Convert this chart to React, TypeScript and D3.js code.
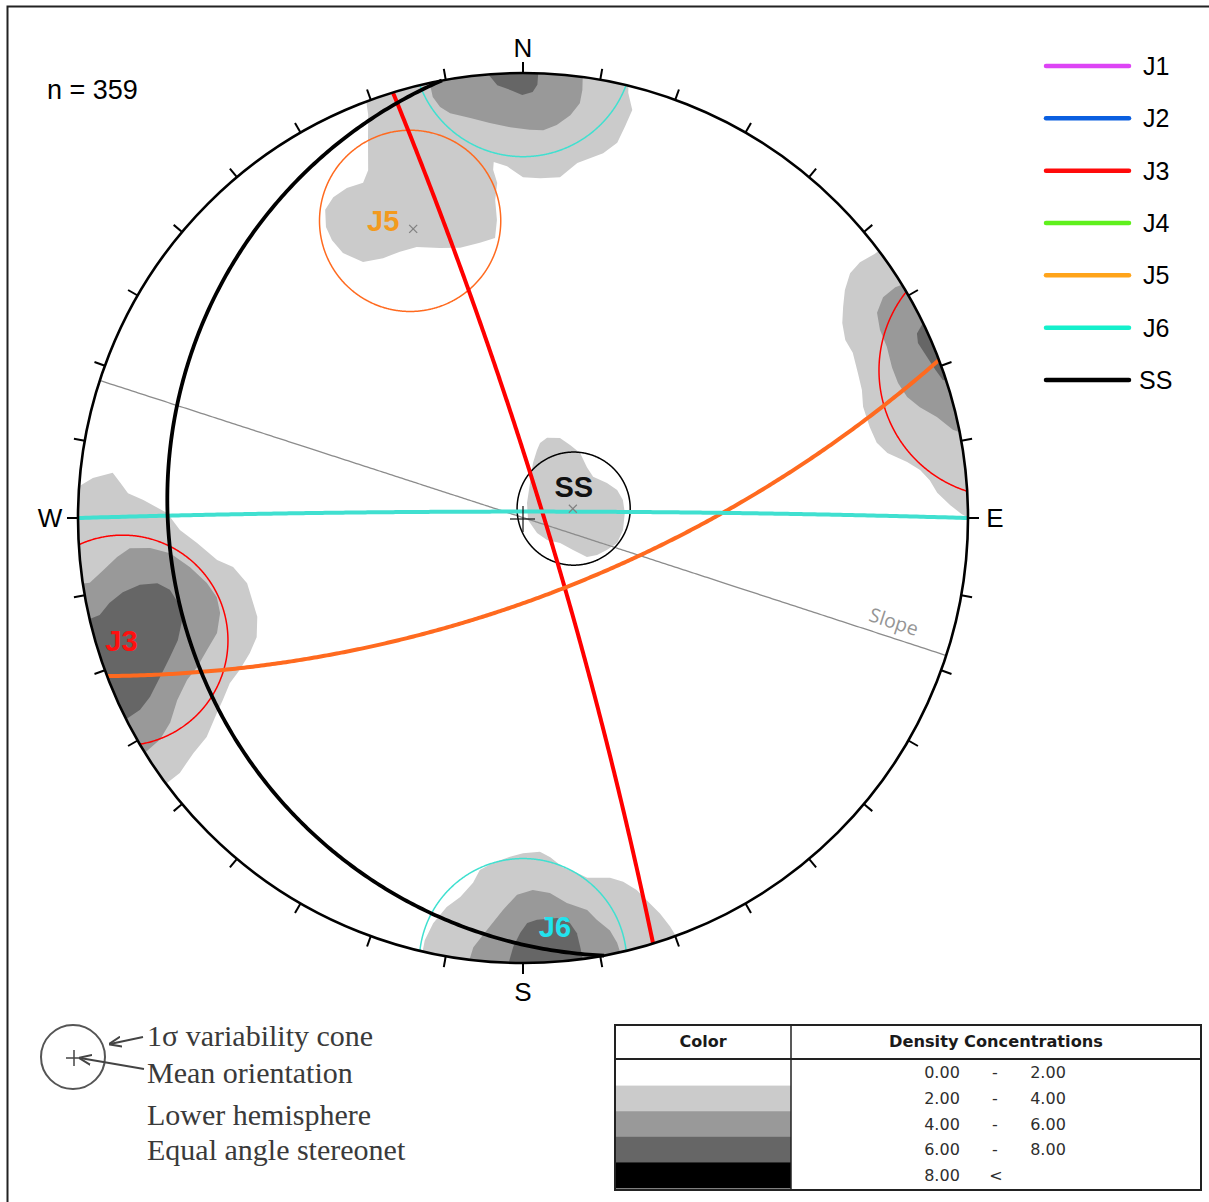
import React from 'react';
import * as d3 from 'd3';

// Canvas and net geometry
const WIDTH = 1209;
const HEIGHT = 1202;
const CX = 523;
const CY = 518;
const R = 445;

// Mean planes: dip direction / dip, 1-sigma cone half-angle (degrees)
const setNames = ['J3', 'J5', 'J6', 'SS'];
const setDipDirections = [73, 159.2, 0, 259.5];
const setDips = [84.8, 69.6, 88.35, 13];
const setCones = [14.5, 15.5, 13.5, 14.3];
const setPoleMarked = [false, true, false, true];
const setPlaneColors = ['#ff0000', '#ff6a1f', '#40e0d0', '#000000'];
const setLabelColors = ['#ff1010', '#f39a1e', '#22e3ee', '#111111'];

// Slope face trace (vertical section)
const slopeDipDirection = 18;
const slopeDip = 89.9;

// Pole density contours, rings of [trend, plunge] (negative plunge = just above horizontal)
const contourLight = [
  [[339.6, -1], [13.5, -1], [13.9, 0.9], [15.0, 3.0], [14.6, 5.5], [14.1, 8.0], [12.4, 10.0], [8.7, 12.2], [6.2, 14.8], [2.9, 15.2], [0, 15.1], [357.4, 13.3], [355.3, 12.5], [355.1, 13.7], [355.6, 15.9], [355.0, 18.7], [355.0, 22.2], [354.3, 25.4], [351.1, 25.9], [346.9, 26.1], [342.9, 25.2], [338.6, 23.6], [335.2, 23.2], [331.7, 22.9], [328.0, 21.7], [325.8, 18.5], [325.5, 15.7], [325.9, 13.4], [327.3, 11.1], [329.4, 10.1], [331.9, 9.9], [334.5, 10.3], [336.0, 8.9], [337.7, 4.9], [339.0, 1.7]],
  [[53.1, -1], [53.1, 0.7], [52.8, 2.9], [53.2, 4.9], [54.7, 6.9], [56.6, 8.5], [58.6, 9.9], [61.1, 10.8], [63.4, 10.7], [66.6, 11.3], [69.3, 11.7], [71.9, 12.4], [75.3, 12.3], [78.0, 11.8], [79.9, 10.5], [81.7, 7.8], [83.1, 6.1], [84.7, 4.9], [86.5, 4.0], [88.3, 2.3], [89.5, 0.8], [90.5, -1]],
  [[273.4, -1], [275.3, 1.7], [276.3, 4.3], [275.0, 5.5], [273.6, 6.7], [272.7, 9.0], [270.8, 12.7], [268.0, 14.7], [265.6, 17.4], [262.2, 20.5], [260.4, 23.1], [256.7, 25.0], [253.2, 25.1], [249.6, 25.0], [245.9, 23.5], [243.7, 21.2], [241.8, 18.3], [240.6, 15.8], [238.8, 13.5], [237.5, 11.6], [235.3, 8.3], [234.5, 5.4], [233.4, 2.3], [233.3, -1]],
  [[193.0, -1], [193.1, 1.5], [192.5, 4.0], [191.1, 6.6], [189.4, 8.4], [187.8, 10.8], [187.0, 12.9], [185.0, 14.2], [182.2, 15.4], [180.0, 16.0], [177.1, 16.2], [175.4, 15.2], [173.5, 13.4], [171.3, 12.2], [169.9, 11.2], [166.4, 10.5], [164.6, 9.4], [163.0, 7.7], [161.8, 5.3], [160.9, 3.5], [160.2, 1.4], [159.7, -1]],
  [[12.8, 70.4], [16.7, 68.7], [24.8, 67.6], [32.8, 67.9], [41.3, 68.0], [51.5, 69.2], [59.6, 69.3], [67.4, 66.9], [73.4, 65.1], [79.8, 64.3], [87.2, 64.2], [96.8, 64.5], [104.9, 65.3], [110.9, 67.2], [116.6, 68.9], [121.4, 70.9], [122.6, 74.8], [124.0, 78.5], [132.5, 81.6], [137.0, 84.7], [111.8, 88.6], [14.9, 86.0], [11.3, 80.8], [10.3, 75.7], [11.6, 72.3]],
];
const contourMedium = [
  [[347.9, -1], [347.9, 1.9], [348.6, 3.4], [349.8, 4.5], [352.5, 5.6], [355.2, 6.6], [358.1, 7.4], [1.0, 7.8], [3.0, 7.8], [4.9, 6.9], [6.7, 5.3], [7.8, 3.5], [7.9, 1.7], [7.6, -1]],
  [[58.6, -1], [58.2, 0.9], [58.5, 3.0], [59.9, 4.8], [62.2, 5.6], [64.8, 5.8], [67.8, 6.3], [70.2, 6.3], [72.5, 5.7], [74.4, 4.4], [76.3, 2.5], [78.4, 0.8], [79.5, -1]],
  [[261.6, -1], [261.5, 0.9], [262.9, 2.9], [264.5, 5.0], [265.6, 6.9], [265.4, 9.9], [264.3, 12.9], [261.6, 15.8], [258.4, 18.1], [255.5, 19.2], [252.6, 19.0], [249.4, 17.4], [247.3, 14.8], [245.4, 12.3], [244.3, 10.1], [242.2, 7.4], [239.9, 5.0], [238.6, 2.6], [238.0, -1]],
  [[187.1, -1], [186.6, 1.7], [185.0, 4.2], [182.9, 7.2], [180.9, 9.5], [178.5, 10.2], [175.9, 9.6], [173.5, 7.9], [170.7, 6.5], [169.6, 4.9], [168.1, 3.1], [167.5, 1.3], [167.3, -1]],
];
const contourDark = [
  [[354.8, -1], [356.6, 1.5], [358.3, 2.2], [359.9, 2.9], [1.3, 2.5], [1.9, 1.5], [2.0, -1]],
  [[63.3, -1], [64.9, 1.3], [66.1, 1.7], [68.3, 1.3], [70.2, 0.9], [71.8, 0.4], [72.5, -1]],
  [[256.7, -1], [257.1, 1.4], [258.4, 3.0], [259.5, 5.1], [260.1, 7.7], [259.9, 10.3], [258.5, 12.0], [256.2, 12.8], [253.3, 12.7], [250.5, 11.1], [248.5, 9.1], [246.3, 6.6], [244.4, 4.2], [243.4, 2.2], [243.0, -1]],
  [[182.1, -1], [181.3, 2.1], [180.4, 4.0], [179.4, 5.4], [178.0, 5.8], [175.1, 5.9], [173.4, 5.0], [172.6, 3.5], [172.4, 1.6], [172.2, -1]],
];
const contourFills = ['#cbcbcb', '#999999', '#666666'];

// Legend of sets
const legendNames = ['J1', 'J2', 'J3', 'J4', 'J5', 'J6', 'SS'];
const legendColors = ['#dd44f5', '#0a5fe0', '#ff0a0a', '#5ff01c', '#ffa41a', '#14f0cc', '#000000'];

// Density table
const densityLow = ['0.00', '2.00', '4.00', '6.00', '8.00'];
const densityHigh = ['2.00', '4.00', '6.00', '8.00', ''];
const densityFills = ['#ffffff', '#cbcbcb', '#999999', '#666666', '#000000'];

const poleCount = 359;
const tickAngles = d3.range(0, 360, 10);
const cardinals = [
  { text: 'N', az: 0, off: 25 },
  { text: 'E', az: 90, off: 27 },
  { text: 'S', az: 180, off: 29 },
  { text: 'W', az: 270, off: 28 },
];

const SANS = 'Liberation Sans, Arial, Helvetica, sans-serif';
const SERIF = 'Liberation Serif, Times New Roman, serif';
const TAHOMA = 'DejaVu Sans, Verdana, sans-serif';

// [trend, plunge] -> geographic [lon, lat] with the nadir at lat -90
const toGeo = (t: number, p: number): [number, number] => [t, -p];

function contourPolygon(ring: number[][]) {
  const coords = ring.map(([t, p]) => toGeo(t, p));
  coords.push(coords[0]);
  let poly: any = { type: 'Polygon', coordinates: [coords] };
  if (d3.geoArea(poly) > 2 * Math.PI) {
    poly = { type: 'Polygon', coordinates: [coords.slice().reverse()] };
  }
  return poly;
}

function greatCircle(dipDir: number, dip: number) {
  const ring = d3.geoCircle().center(toGeo(dipDir + 180, 90 - dip)).radius(90).precision(0.5)().coordinates[0];
  return { type: 'LineString', coordinates: ring } as any;
}

function cone(trend: number, plunge: number, angle: number) {
  const a = d3.geoCircle().center(toGeo(trend, plunge)).radius(angle).precision(0.5)().coordinates[0];
  const b = d3.geoCircle().center(toGeo(trend + 180, -plunge)).radius(angle).precision(0.5)().coordinates[0];
  return { type: 'MultiLineString', coordinates: [a, b] } as any;
}

const labelOffsets: Record<string, [number, number]> = {
  J3: [-13, 4],
  J5: [-30, -8],
  J6: [32, -23],
  SS: [1, -22],
};

export default function App() {
  const projection = d3
    .geoStereographic()
    .rotate([0, 90])
    .scale(R)
    .translate([CX, CY])
    .clipAngle(90)
    .precision(0.2);
  const path = d3.geoPath(projection as any);

  const [ncx, ncy] = projection(toGeo(0, 90)) as [number, number];

  const sets = setNames.map((name, i) => {
    const poleTrend = (setDipDirections[i] + 180) % 360;
    const polePlunge = 90 - setDips[i];
    const pole = projection(toGeo(poleTrend, polePlunge)) as [number, number];
    return {
      name,
      plane: path(greatCircle(setDipDirections[i], setDips[i])) || '',
      cone: path(cone(poleTrend, polePlunge, setCones[i])) || '',
      pole,
      marked: setPoleMarked[i],
      planeColor: setPlaneColors[i],
      labelColor: setLabelColors[i],
    };
  });

  const slopePath = path(greatCircle(slopeDipDirection, slopeDip)) || '';
  const slopeStrike = slopeDipDirection + 90;
  const slopeLabelPt = projection(toGeo(slopeStrike, 8.3)) as [number, number];
  const slopeAngle = slopeStrike - 90;

  const contourLayers = [contourLight, contourMedium, contourDark].map((rings, li) => ({
    fill: contourFills[li],
    paths: rings.map((ring) => path(contourPolygon(ring)) || ''),
  }));

  const legendY = d3.scalePoint<string>().domain(legendNames).range([66, 380]);

  const tableX0 = 615;
  const tableX1 = 1201;
  const tableSplit = 791;
  const headerTop = 1025;
  const headerBottom = 1059;
  const rowY = d3.scaleBand<number>().domain(d3.range(densityLow.length)).range([1060, 1188]);

  return (
    <svg
      width={WIDTH}
      height={HEIGHT}
      viewBox={`0 0 ${WIDTH} ${HEIGHT}`}
      style={{ position: 'absolute', left: 0, top: 0, background: '#ffffff' }}
    >
      <defs>
        <clipPath id="net-clip">
          <circle cx={CX} cy={CY} r={R} />
        </clipPath>
        <marker id="arrow" viewBox="0 0 10 10" refX="9" refY="5" markerWidth="7" markerHeight="7" orient="auto">
          <path d="M0,1 L10,5 L0,9" fill="none" stroke="#444" strokeWidth={1.6} />
        </marker>
      </defs>

      {/* frame */}
      <rect x={7.5} y={6.5} width={1210} height={1210} fill="none" stroke="#222" strokeWidth={2} />

      {/* density contours */}
      <g clipPath="url(#net-clip)">
        {contourLayers.map((layer, li) => (
          <g key={li} fill={layer.fill} stroke="none">
            {layer.paths.map((d, k) => (
              <path key={k} d={d} />
            ))}
          </g>
        ))}
      </g>

      {/* slope trace */}
      <path d={slopePath} fill="none" stroke="#8c8c8c" strokeWidth={1.3} />
      <text
        transform={`translate(${slopeLabelPt[0]},${slopeLabelPt[1]}) rotate(${slopeAngle})`}
        x={0}
        y={-9}
        textAnchor="middle"
        fontFamily="Open Sans, Noto Sans, sans-serif"
        fontSize={19.5}
        fill="#959595"
      >
        Slope
      </text>

      {/* variability cones */}
      <g fill="none" strokeWidth={1.5}>
        {sets.map((s) => (
          <path key={s.name} d={s.cone} stroke={s.planeColor} />
        ))}
      </g>

      {/* mean planes */}
      <g fill="none">
        {sets.map((s) => (
          <path key={s.name} d={s.plane} stroke={s.planeColor} strokeWidth={s.name === 'SS' ? 3.8 : 4} />
        ))}
      </g>

      {/* mean poles */}
      <g stroke="#808080" strokeWidth={1.2}>
        {sets
          .filter((s) => s.marked)
          .map((s) => (
            <g key={s.name} transform={`translate(${s.pole[0]},${s.pole[1]})`}>
              <line x1={-4} y1={-4} x2={4} y2={4} />
              <line x1={-4} y1={4} x2={4} y2={-4} />
            </g>
          ))}
      </g>

      {/* centre cross */}
      <g stroke="#111" strokeWidth={1.2}>
        <line x1={ncx - 13} y1={ncy + 1} x2={ncx + 12} y2={ncy + 1} />
        <line x1={ncx} y1={ncy - 12} x2={ncx} y2={ncy + 14} />
      </g>

      {/* set labels */}
      {sets.map((s) => (
        <text
          key={s.name}
          x={s.pole[0] + labelOffsets[s.name][0]}
          y={s.pole[1] + labelOffsets[s.name][1]}
          textAnchor="middle"
          dominantBaseline="central"
          fontFamily={SANS}
          fontWeight="bold"
          fontSize={29}
          fill={s.labelColor}
        >
          {s.name}
        </text>
      ))}

      {/* primitive circle and ticks */}
      <circle cx={CX} cy={CY} r={R} fill="none" stroke="#000" strokeWidth={2.6} />
      <g stroke="#000" strokeWidth={2}>
        {tickAngles.map((a) => {
          const rad = (a * Math.PI) / 180;
          const sx = Math.sin(rad);
          const sy = -Math.cos(rad);
          return <line key={a} x1={CX + sx * R} y1={CY + sy * R} x2={CX + sx * (R + 11)} y2={CY + sy * (R + 11)} />;
        })}
      </g>
      {cardinals.map((c) => {
        const rad = (c.az * Math.PI) / 180;
        return (
          <text
            key={c.text}
            x={CX + Math.sin(rad) * (R + c.off)}
            y={CY - Math.cos(rad) * (R + c.off)}
            textAnchor="middle"
            dominantBaseline="central"
            fontFamily={SANS}
            fontSize={26}
            fill="#000"
          >
            {c.text}
          </text>
        );
      })}

      <text x={47} y={99} fontFamily={SANS} fontSize={27} fill="#000">
        {`n = ${poleCount}`}
      </text>

      {/* set legend */}
      {legendNames.map((n, i) => (
        <g key={n}>
          <line
            x1={1046}
            x2={1129}
            y1={legendY(n)}
            y2={legendY(n)}
            stroke={legendColors[i]}
            strokeWidth={4.5}
            strokeLinecap="round"
          />
          <text
            x={n === 'SS' ? 1139 : 1143}
            y={legendY(n)}
            dominantBaseline="central"
            fontFamily={SANS}
            fontSize={25}
            fill="#000"
          >
            {n}
          </text>
        </g>
      ))}

      {/* symbol key */}
      <circle cx={73} cy={1057} r={32} fill="none" stroke="#555" strokeWidth={2} />
      <g stroke="#444" strokeWidth={1.5}>
        <line x1={66} y1={1058} x2={83} y2={1058} />
        <line x1={74} y1={1050} x2={74} y2={1066} />
      </g>
      <line x1={143} y1={1037} x2={110} y2={1044} stroke="#444" strokeWidth={1.8} markerEnd="url(#arrow)" />
      <line x1={144} y1={1069} x2={80} y2={1058} stroke="#444" strokeWidth={1.8} markerEnd="url(#arrow)" />
      <g fontFamily={SERIF} fontSize={30} fill="#3a3a3a">
        <text x={147} y={1046}>1σ variability cone</text>
        <text x={147} y={1083}>Mean orientation</text>
        <text x={147} y={1125}>Lower hemisphere</text>
        <text x={147} y={1160}>Equal angle stereonet</text>
      </g>

      {/* density table */}
      <g>
        {densityFills.map((f, i) => (
          <rect key={i} x={tableX0} y={rowY(i)} width={tableSplit - tableX0} height={rowY.bandwidth() + 0.5} fill={f} />
        ))}
        <rect x={tableX0} y={headerTop} width={tableX1 - tableX0} height={1190 - headerTop} fill="none" stroke="#222" strokeWidth={2} />
        <line x1={tableX0} x2={tableX1} y1={headerBottom} y2={headerBottom} stroke="#222" strokeWidth={2} />
        <line x1={tableSplit} x2={tableSplit} y1={headerTop} y2={1190} stroke="#222" strokeWidth={1.5} />
        <text x={(tableX0 + tableSplit) / 2} y={1041} textAnchor="middle" dominantBaseline="central" fontFamily={TAHOMA} fontWeight="bold" fontSize={16} fill="#1a1a1a">
          Color
        </text>
        <text x={(tableSplit + tableX1) / 2} y={1041} textAnchor="middle" dominantBaseline="central" fontFamily={TAHOMA} fontWeight="bold" fontSize={16.2} fill="#1a1a1a">
          Density Concentrations
        </text>
        <g fontFamily={TAHOMA} fontSize={16} fill="#2e2e2e" dominantBaseline="central">
          {densityLow.map((lo, i) => (
            <g key={i}>
              <text x={942} y={rowY(i)! + rowY.bandwidth() / 2} textAnchor="middle">
                {lo}
              </text>
              <text x={densityHigh[i] ? 995 : 996} y={rowY(i)! + rowY.bandwidth() / 2} textAnchor="middle">
                {densityHigh[i] ? '-' : '<'}
              </text>
              {densityHigh[i] && (
                <text x={1048} y={rowY(i)! + rowY.bandwidth() / 2} textAnchor="middle">
                  {densityHigh[i]}
                </text>
              )}
            </g>
          ))}
        </g>
      </g>
    </svg>
  );
}
